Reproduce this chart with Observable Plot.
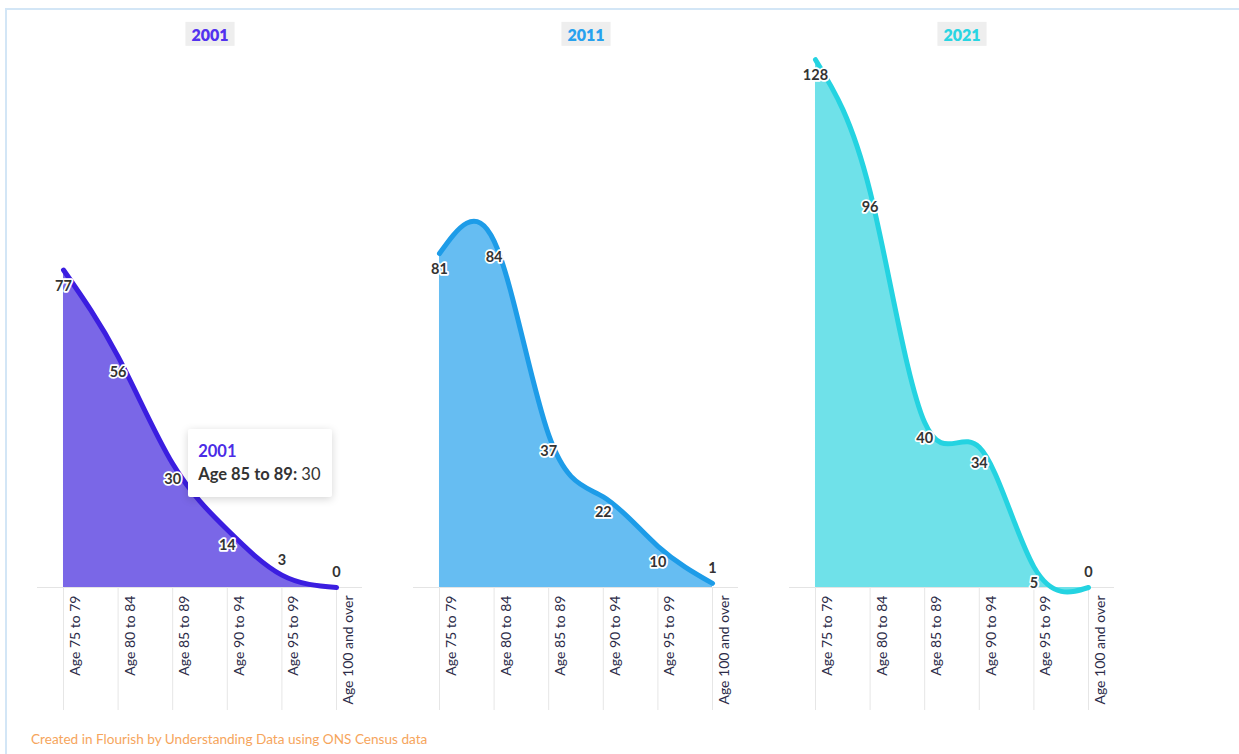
<!DOCTYPE html>
<html>
<head>
<meta charset="utf-8">
<script src="https://cdn.jsdelivr.net/npm/d3@7"></script>
<script src="https://cdn.jsdelivr.net/npm/@observablehq/plot@0.6"></script>
<style>
  html, body { margin: 0; padding: 0; background: #fff; overflow: hidden; }
  body { width: 1239px; height: 754px; position: relative; font-family: Lato, "Open Sans", sans-serif; }
  #frame { position: absolute; left: 5px; top: 8px; width: 1400px; height: 900px; border: 2px solid #d3e6f6; box-sizing: border-box; }
  #chart { position: absolute; left: 0; top: 0; }
  #footer { position: absolute; left: 31px; top: 731px; font-size: 13.6px; color: #f6a55c; }
  #tip { position: absolute; background: #fff; box-shadow: 0 2px 9px rgba(0,0,0,0.17); border-radius: 2px; padding: 11px 11px 11px 10px; font-size: 16.5px; line-height: 23px; color: #333; white-space: nowrap; }
  #tip .yr { font-weight: 700; color: #4a2ce6; }
  #tip b { font-weight: 700; color: #333; }
</style>
</head>
<body>
<div id="frame"></div>
<div id="chart"></div>
<div id="footer">Created in Flourish by Understanding Data using ONS Census data</div>
<script>
const ages = ["Age 75 to 79", "Age 80 to 84", "Age 85 to 89", "Age 90 to 94", "Age 95 to 99", "Age 100 and over"];
const years = ["2001", "2011", "2021"];
const values2001 = [77, 56, 30, 14, 3, 0];
const values2011 = [81, 84, 37, 22, 10, 1];
const values2021 = [128, 96, 40, 34, 5, 0];
const lineColors = ["#3b1ee0", "#1d9ce8", "#24d3e1"];
const areaColors = ["#7a67e7", "#66bdf2", "#6fe1e9"];
const titleColors = ["#5232ee", "#27a1ee", "#29d5e2"];
const tooltipYear = "2001";
const tooltipAge = "Age 85 to 89";

const seriesValues = [values2001, values2011, values2021];
const rows = [];
years.forEach((yr, i) => ages.forEach((a, j) => rows.push({year: yr, age: a, value: seriesValues[i][j]})));

const marks = [];
marks.push(Plot.ruleY([0], {stroke: "#e4e4e4", strokeWidth: 1}));
marks.push(Plot.axisX({tickSize: 123, tickFormat: () => "", stroke: "#e6e6e6", strokeOpacity: 1}));
years.forEach((yr, i) => {
  const d = rows.filter(r => r.year === yr);
  marks.push(Plot.areaY(d, {x: "age", y: "value", fx: "year", fill: areaColors[i], curve: "natural"}));
  marks.push(Plot.line(d, {x: "age", y: "value", fx: "year", stroke: lineColors[i], strokeWidth: 5, strokeLinecap: "round", strokeLinejoin: "round", curve: "natural"}));
});
marks.push(Plot.text(rows.filter(r => r.value >= 4), {x: "age", y: "value", fx: "year", text: d => String(d.value), dy: 16, fontSize: 14.5, fontWeight: 700, fill: "#333", stroke: "white", strokeWidth: 3.5}));
marks.push(Plot.text(rows.filter(r => r.value < 4), {x: "age", y: "value", fx: "year", text: d => String(d.value), dy: -15, fontSize: 14.5, fontWeight: 700, fill: "#333", stroke: "white", strokeWidth: 3.5}));
marks.push(Plot.text(rows, {x: "age", fx: "year", text: "age", frameAnchor: "bottom", rotate: -90, textAnchor: "end", lineAnchor: "middle", dx: 12, dy: 8, fontSize: 14, fill: "#2c2c48"}));
marks.push(Plot.text(years.map((y, i) => ({year: y, color: titleColors[i]})), {fx: "year", text: "year", frameAnchor: "top", dy: -22, dx: 10, fontSize: 16, fontWeight: 800, fill: "color", className: "ftitle"}));

const plot = Plot.plot({
  width: 1239,
  height: 725,
  marginLeft: 37,
  marginRight: 125,
  marginTop: 51,
  marginBottom: 138,
  style: {fontFamily: "Lato, 'Open Sans', sans-serif", background: "transparent", overflow: "visible"},
  fx: {domain: years, paddingInner: 0.1356, paddingOuter: 0, round: false, axis: null, label: null},
  x: {type: "point", domain: ages, padding: 0.476, round: false, axis: null, label: null},
  y: {domain: [0, 130], axis: null, label: null},
  color: {type: "identity"},
  marks
});
document.getElementById("chart").appendChild(plot);

// Title background boxes
plot.querySelectorAll(".ftitle text").forEach(t => {
  const b = t.getBBox();
  const r = document.createElementNS("http://www.w3.org/2000/svg", "rect");
  r.setAttribute("x", b.x - 6);
  r.setAttribute("y", b.y - 3);
  r.setAttribute("width", b.width + 12);
  r.setAttribute("height", b.height + 5);
  r.setAttribute("fill", "#eeeeee");
  const tr = t.getAttribute("transform");
  if (tr) r.setAttribute("transform", tr);
  t.parentNode.insertBefore(r, t);
});

// Tooltip positioned from scales
const fxS = plot.scale("fx"), xS = plot.scale("x"), yS = plot.scale("y");
const yi = years.indexOf(tooltipYear), ai = ages.indexOf(tooltipAge);
const px = fxS.apply(tooltipYear) + (xS.apply(tooltipAge) - xS.range[0]);
const py = yS.apply(seriesValues[yi][ai]);
const tip = document.createElement("div");
tip.id = "tip";
tip.innerHTML = `<div class="yr">${tooltipYear}</div><div><b>${tooltipAge}:</b> ${seriesValues[yi][ai]}</div>`;
document.body.appendChild(tip);
tip.style.left = (px + 16) + "px";
tip.style.top = (py - tip.offsetHeight / 2) + "px";
</script>
</body>
</html>
